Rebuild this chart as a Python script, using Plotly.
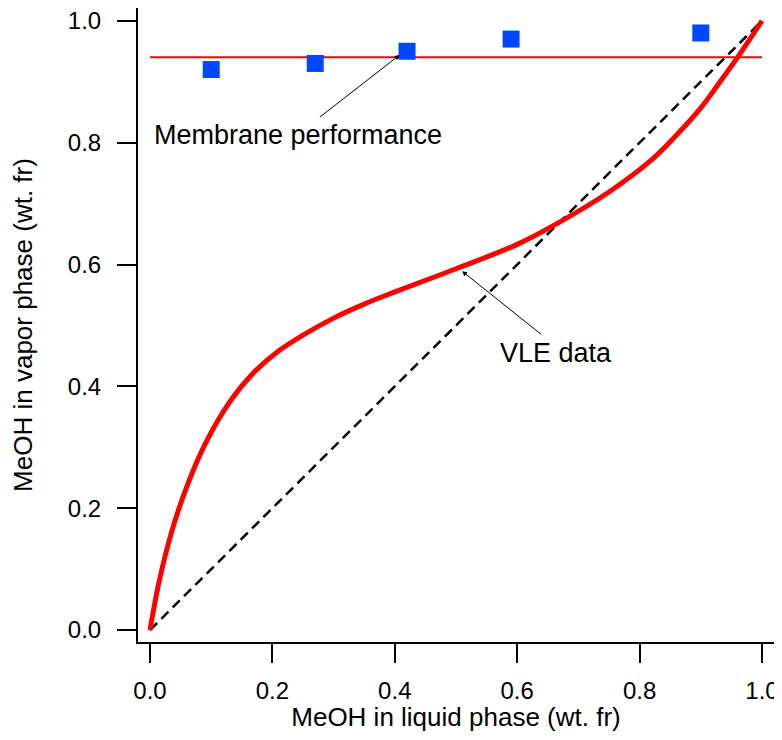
import plotly.graph_objects as go

# VLE curve (MeOH liquid vs vapor, wt. fr)
vle_liquid = [0, 0.015, 0.035, 0.06, 0.09, 0.13, 0.17, 0.21, 0.25, 0.3, 0.35, 0.4,
              0.5, 0.6, 0.67, 0.75, 0.82, 0.86, 0.9, 0.93, 0.96, 1.0]
vle_vapor = [0, 0.08, 0.16, 0.235, 0.305, 0.374, 0.423, 0.458, 0.484, 0.512, 0.535, 0.555,
             0.593, 0.633, 0.670, 0.719, 0.772, 0.812, 0.857, 0.898, 0.94, 1.0]

# Membrane data points
mem_liquid = [0.10, 0.27, 0.42, 0.59, 0.90]
mem_vapor = [0.92, 0.93, 0.95, 0.97, 0.98]

# Membrane performance level
perf_x = [0.0, 1.0]
perf_y = [0.94, 0.94]

# Diagonal y = x
diag = [0.0, 1.0]

tick_vals = [0.0, 0.2, 0.4, 0.6, 0.8, 1.0]
tick_text = ["0.0", "0.2", "0.4", "0.6", "0.8", "1.0"]

FONT = "Liberation Sans, Arial, sans-serif"

fig = go.Figure()
fig.add_trace(go.Scatter(x=diag, y=diag, mode="lines",
                         line=dict(color="black", width=2.5, dash="10px,6px"),
                         showlegend=False, hoverinfo="skip"))
fig.add_trace(go.Scatter(x=perf_x, y=perf_y, mode="lines",
                         line=dict(color="#ff0000", width=2),
                         showlegend=False))
fig.add_trace(go.Scatter(x=vle_liquid, y=vle_vapor, mode="lines",
                         line=dict(color="#ff0000", width=5, shape="spline", smoothing=1.0),
                         showlegend=False))
fig.add_trace(go.Scatter(x=mem_liquid, y=mem_vapor, mode="markers",
                         marker=dict(symbol="square", size=17, color="#0047ff",
                                     line=dict(width=0)),
                         showlegend=False))

axis_common = dict(
    showgrid=False, zeroline=False, automargin=False,
    showline=True, linecolor="black", linewidth=2, mirror=True,
    ticks="outside", ticklen=19, tickwidth=2, tickcolor="black",
    tickvals=tick_vals, ticktext=tick_text, ticklabeloverflow="allow",
    tickfont=dict(family=FONT, size=24, color="black"),
)

fig.update_xaxes(range=[-0.0196, 1.0196], ticklabelstandoff=7,
                 title=dict(text="MeOH in liquid phase (wt. fr)",
                            font=dict(family=FONT, size=26, color="black"), standoff=5),
                 **axis_common)
fig.update_yaxes(range=[-0.0196, 1.021], ticklabelstandoff=11,
                 title=dict(text="MeOH in vapor phase (wt. fr)",
                            font=dict(family=FONT, size=26, color="black"), standoff=31),
                 **axis_common)

annots = [
    dict(x=0.242, y=0.813, text="Membrane performance", showarrow=False,
         font=dict(family=FONT, size=27, color="black")),
    dict(x=0.408, y=0.944, ax=0.275, ay=0.84, axref="x", ayref="y", text="",
         showarrow=True, arrowhead=2, arrowsize=1, arrowwidth=1, arrowcolor="black"),
    dict(x=0.663, y=0.455, text="VLE data", showarrow=False,
         font=dict(family=FONT, size=27, color="black")),
    dict(x=0.51, y=0.589, ax=0.642, ay=0.483, axref="x", ayref="y", text="",
         showarrow=True, arrowhead=2, arrowsize=1, arrowwidth=1, arrowcolor="black"),
]

# The page body adds an 8 px offset; size the figure so the page does not overflow.
fig.update_layout(
    width=774, height=724,
    margin=dict(l=130, r=8, t=0, b=90),
    paper_bgcolor="white", plot_bgcolor="white",
    annotations=annots,
    font=dict(family=FONT),
)

fig.write_html("out.html")
